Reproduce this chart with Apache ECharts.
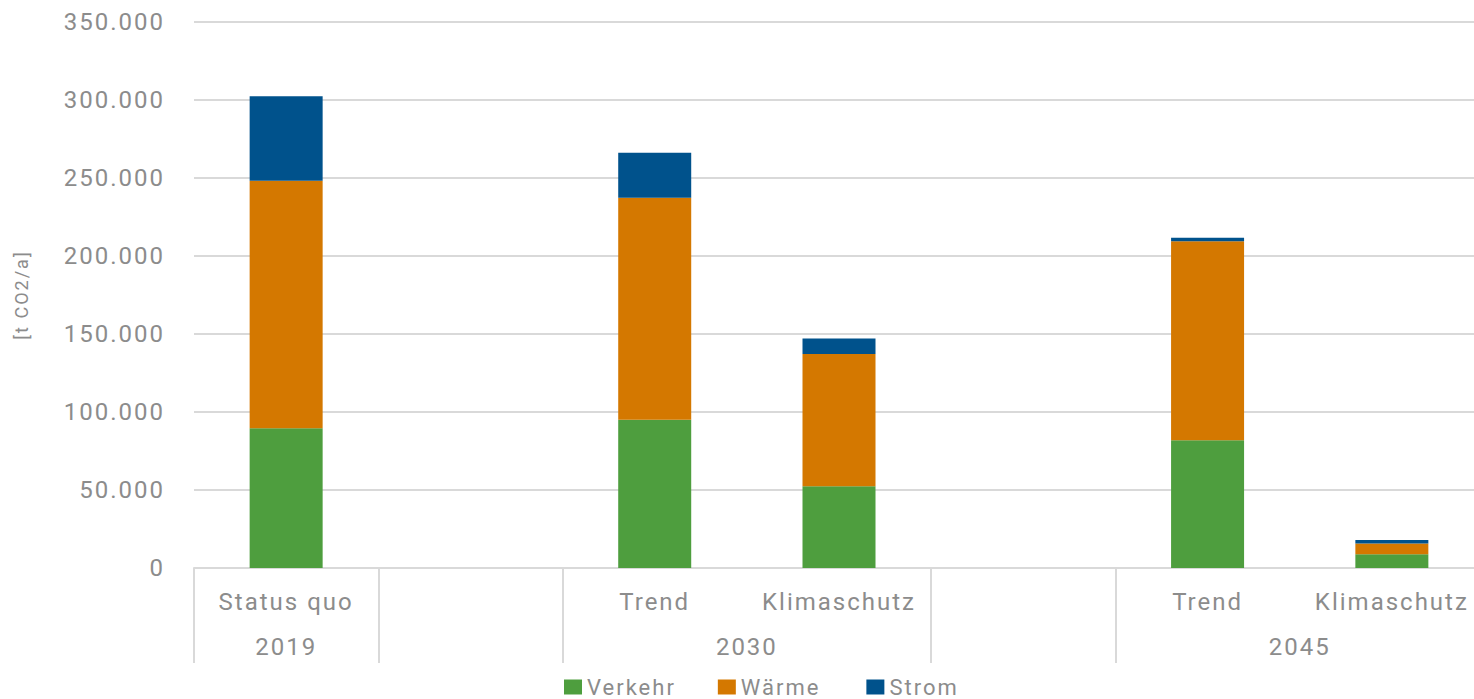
<!DOCTYPE html>
<html>
<head>
<meta charset="utf-8">
<title>CO2-Emissionen</title>
<script src="https://cdn.jsdelivr.net/npm/echarts@6/dist/echarts.min.js"></script>
<style>
  html, body { margin: 0; padding: 0; background: #fff; }
  #chart { width: 1474px; height: 699px; }
  /* weite Laufweite wie im Original (DIN) */
  #chart text { letter-spacing: 2px; }
</style>
</head>
<body>
<div id="chart"></div>
<script>
// Szenarien (eine Kategorie je Säule, leere Kategorien als Abstand)
const categories = ['Status quo', '', 'Trend', 'Klimaschutz', '', 'Trend', 'Klimaschutz']
// Jahresgruppen: Name und Anzahl Kategorien
const groupNames = ['2019', '', '2030', '', '2045']
const groupSizes = [1, 1, 2, 1, 2]
// Werte in t CO2/a
const verkehr = [89600, null, 95000, 52400, null, 81900, 8800]
const waerme = [158600, null, 142300, 84700, null, 127600, 6900]
const strom = [54200, null, 28900, 10000, null, 2200, 2200]
const yTicks = { min: 0, max: 350000, step: 50000 }

const grey = '#8c8c8c'
const lineGrey = '#d9d9d9'

// Gruppengrenzen und -mitten aus den Größen
let starts = [], centers = {}, acc = 0
groupSizes.forEach((s, i) => {
  starts.push(acc)
  if (groupNames[i]) centers[acc + s / 2] = groupNames[i]
  acc += s
})

function fmt (v) {
  return String(v).replace(/\B(?=(\d{3})+(?!\d))/g, '.')
}

let chart = echarts.init(document.getElementById('chart'), null, { renderer: 'svg' })
chart.setOption({
  animation: false,
  textStyle: { fontFamily: 'Roboto, sans-serif' },
  grid: { left: 194, top: 22, width: 1290, height: 546, outerBoundsMode: 'none' },
  legend: {
    left: 559,
    top: 671,
    itemWidth: 18,
    itemHeight: 15,
    itemGap: 56,
    icon: 'rect',
    textStyle: { color: grey, fontSize: 22 },
    data: ['Verkehr', 'Wärme', 'Strom']
  },
  xAxis: [{
    type: 'category',
    data: categories,
    axisLine: { lineStyle: { color: lineGrey, width: 2 } },
    axisTick: {
      show: true,
      length: 95,
      interval: function (index) { return starts.indexOf(index) >= 0 },
      lineStyle: { color: lineGrey, width: 2 }
    },
    axisLabel: { interval: 0, margin: 22, color: grey, fontSize: 24 }
  }, {
    type: 'value',
    position: 'bottom',
    offset: 45,
    min: 0,
    max: categories.length,
    interval: 0.5,
    axisLine: { show: false },
    axisTick: { show: false },
    splitLine: { show: false },
    axisLabel: {
      margin: 22,
      color: grey,
      fontSize: 24,
      showMinLabel: true,
      showMaxLabel: true,
      formatter: function (v) { return centers[v] || '' }
    }
  }],
  yAxis: {
    type: 'value',
    min: yTicks.min,
    max: yTicks.max,
    interval: yTicks.step,
    name: '[t CO2/a]',
    nameLocation: 'middle',
    nameGap: 164,
    nameTextStyle: { color: grey, fontSize: 18 },
    axisLine: { show: false },
    axisTick: { show: false },
    splitLine: { lineStyle: { color: lineGrey, width: 2 } },
    axisLabel: { color: grey, fontSize: 24, margin: 29, formatter: fmt }
  },
  series: [
    { name: 'Verkehr', type: 'bar', stack: 'total', barWidth: 73, data: verkehr, itemStyle: { color: '#4e9e3e' } },
    { name: 'Wärme', type: 'bar', stack: 'total', barWidth: 73, data: waerme, itemStyle: { color: '#d47800' } },
    { name: 'Strom', type: 'bar', stack: 'total', barWidth: 73, data: strom, itemStyle: { color: '#00528c' } }
  ]
})
</script>
</body>
</html>
